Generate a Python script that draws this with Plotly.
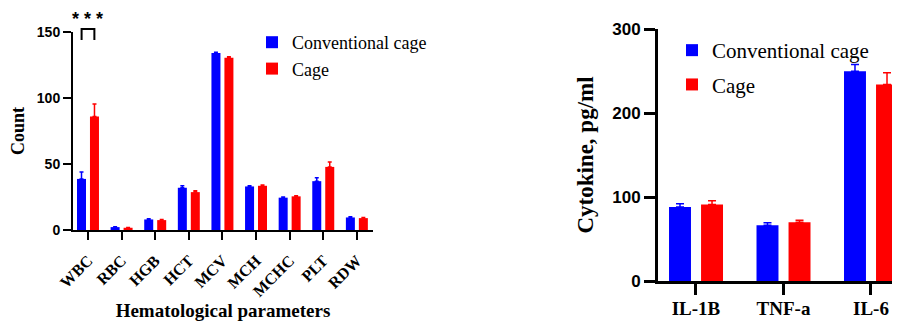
import plotly.graph_objects as go

# ---- data: hematological parameters ----
hema_params = ["WBC", "RBC", "HGB", "HCT", "MCV", "MCH", "MCHC", "PLT", "RDW"]
hema_conv = [38.7, 2.2, 8.0, 32.0, 134.0, 33.0, 24.5, 37.0, 9.5]
hema_conv_err = [5.3, 0.3, 0.5, 1.5, 0.7, 0.5, 0.5, 2.5, 0.5]
hema_cage = [86.0, 1.7, 7.5, 28.7, 130.5, 33.5, 25.5, 47.8, 9.0]
hema_cage_err = [9.5, 0.2, 0.5, 1.0, 0.8, 0.6, 0.5, 3.7, 0.4]

# ---- data: cytokines ----
cyto_names = ["IL-1B", "TNF-a", "IL-6"]
cyto_conv = [88.0, 66.3, 249.6]
cyto_conv_err = [4.0, 3.1, 8.0]
cyto_cage = [91.2, 69.8, 234.0]
cyto_cage_err = [4.4, 2.5, 14.0]

BLUE = "#0000FF"
RED = "#FF0000"
SERIF = "Liberation Serif"
SANS = "Liberation Sans"
# page body has an 8px margin; figure sized to fill the rest of the window
OFF = 8
W, H = 900 - OFF, 324 - OFF


def px(xr):
    return (xr - OFF) / W


def py(yr):
    return (H - (yr - OFF)) / H


fig = go.Figure()


def bar(x, y, err, color, name, offset, width, xa, ya, legend, group, cap):
    return go.Bar(
        x=x, y=y, name=name, marker=dict(color=color, line=dict(width=0)),
        offset=offset, width=width, xaxis=xa, yaxis=ya, legend=legend,
        legendgroup=group,
        error_y=dict(type="data", symmetric=False, array=err,
                     arrayminus=[0] * len(err), color=color,
                     thickness=1.5, width=cap),
    )


# left panel
fig.add_trace(bar(hema_params, hema_conv, hema_conv_err, BLUE, "Conventional cage",
                  -0.327, 0.268, "x", "y", "legend", "a", 2))
fig.add_trace(bar(hema_params, hema_cage, hema_cage_err, RED, "Cage",
                  0.059, 0.268, "x", "y", "legend", "b", 2))
# right panel
fig.add_trace(bar(cyto_names, cyto_conv, cyto_conv_err, BLUE, "Conventional cage",
                  -0.308, 0.251, "x2", "y2", "legend2", "c", 4))
fig.add_trace(bar(cyto_names, cyto_cage, cyto_cage_err, RED, "Cage",
                  0.058, 0.251, "x2", "y2", "legend2", "d", 4))

axis_common = dict(showgrid=False, zeroline=False, showline=True, linecolor="black",
                   ticks="outside", tickcolor="black", automargin=False)

fig.update_layout(
    width=W, height=H,
    margin=dict(l=0, r=0, t=0, b=0),
    paper_bgcolor="white", plot_bgcolor="white",
    barmode="overlay",
    xaxis=dict(**axis_common, domain=[px(73), px(373)], range=[-0.446, 8.48],
               linewidth=2, tickwidth=2, ticklen=8, tickangle=-45,
               ticklabelstandoff=5,
               tickfont=dict(family=SERIF, size=16, color="black", weight="bold"),
               title=dict(text="Hematological parameters", standoff=4,
                          font=dict(family=SERIF, size=19, color="black", weight="bold"))),
    yaxis=dict(**axis_common, domain=[py(230), py(32)], range=[0, 150],
               tickvals=[0, 50, 100, 150], linewidth=2, tickwidth=2, ticklen=8,
               tickfont=dict(family=SANS, size=14, color="black", weight="bold"),
               title=dict(text="Count", standoff=8,
                          font=dict(family=SERIF, size=18, color="black", weight="bold"))),
    xaxis2=dict(**axis_common, domain=[px(658), 1.0], range=[-0.434, 2.332],
                linewidth=3, tickwidth=3, ticklen=11, anchor="y2",
                ticklabelstandoff=-3,
                tickfont=dict(family=SERIF, size=19, color="black", weight="bold")),
    yaxis2=dict(**axis_common, domain=[py(281), py(29)], range=[0, 300],
                tickvals=[0, 100, 200, 300], linewidth=3, tickwidth=3, ticklen=11,
                anchor="x2",
                tickfont=dict(family=SANS, size=17, color="black", weight="bold"),
                title=dict(text="Cytokine, pg/ml", standoff=13,
                           font=dict(family=SERIF, size=23, color="black", weight="bold"))),
    legend=dict(x=px(252), y=py(24), xanchor="left", yanchor="top",
                bgcolor="rgba(0,0,0,0)", traceorder="grouped", tracegroupgap=0,
                font=dict(family=SERIF, size=18, color="black")),
    legend2=dict(x=px(672), y=py(30), xanchor="left", yanchor="top",
                 bgcolor="rgba(0,0,0,0)", traceorder="grouped", tracegroupgap=4,
                 font=dict(family=SERIF, size=21, color="black")),
)

# significance bracket for WBC
fig.add_shape(type="path", xref="x", yref="paper",
              path=f"M -0.19,{py(40)} L -0.19,{py(29)} L 0.19,{py(29)} L 0.19,{py(40)}",
              line=dict(color="black", width=2))
fig.add_annotation(x=0, xref="x", y=py(19), yref="paper", text="* * *",
                   showarrow=False, yanchor="middle",
                   font=dict(family=SANS, size=18, color="black", weight="bold"))

fig.write_html("out.html")
